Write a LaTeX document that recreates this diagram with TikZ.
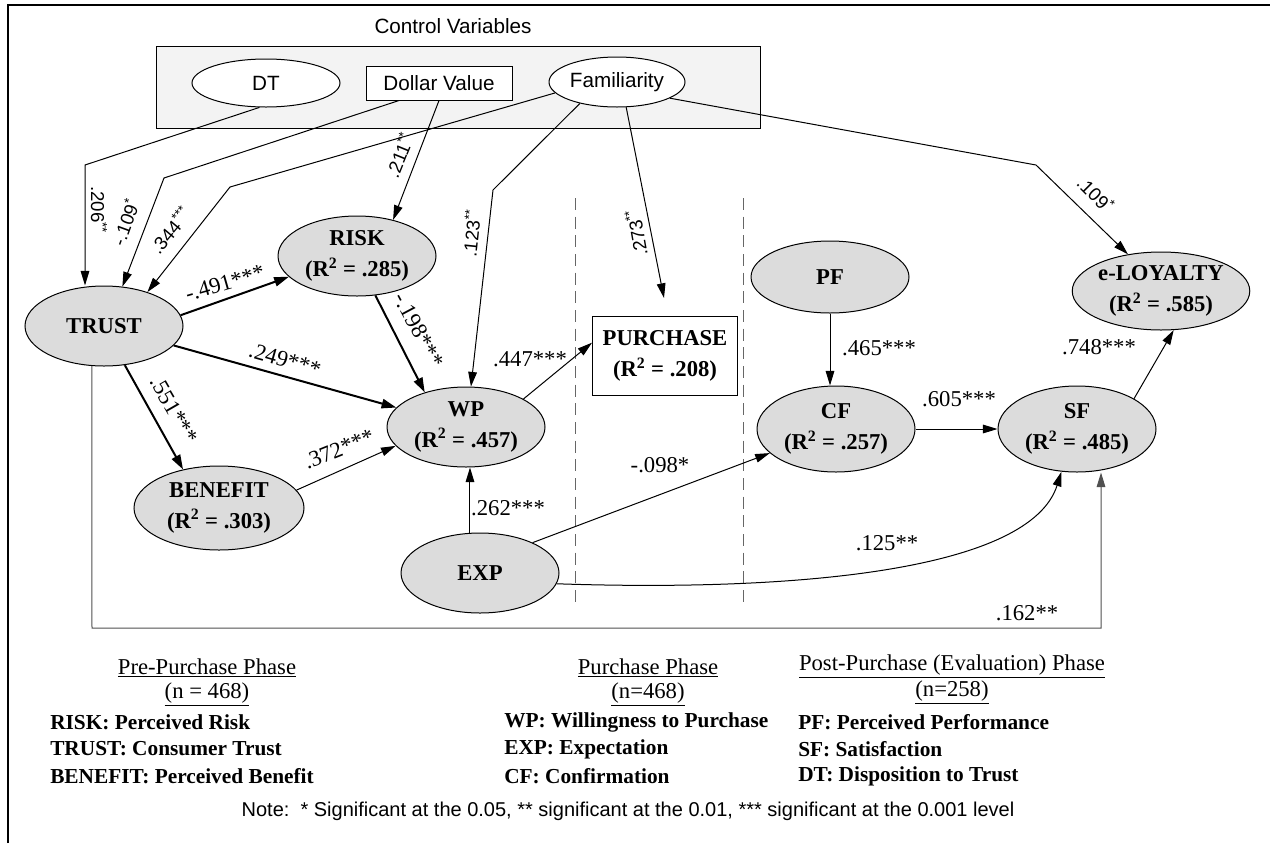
\documentclass[tikz,border=0pt]{standalone}
\usepackage{fontspec}
\setmainfont{Liberation Serif}
\newfontfamily\arialfont{Liberation Sans}
\usetikzlibrary{shapes.geometric,arrows.meta}
\definecolor{nodegray}{RGB}{220,220,220}
\definecolor{boxgray}{RGB}{243,243,243}
\definecolor{linegray}{RGB}{80,80,80}

\begin{document}
\begin{tikzpicture}[x=0.75pt,y=0.75pt,yscale=-1,xscale=1,
  latent/.style={draw,ellipse,fill=nodegray,line width=0.75pt,inner sep=0pt,minimum width=118.5pt,minimum height=60pt,align=center,font=\fontsize{17}{23}\selectfont\bfseries},
  ctrl/.style={draw,fill=white,line width=0.75pt,inner sep=0pt,font=\arialfont\fontsize{15.5}{18}\selectfont},
  coef/.style={inner sep=1pt,font=\fontsize{17}{20}\selectfont},
  scoef/.style={inner sep=1pt,font=\arialfont\fontsize{14}{16}\selectfont},
  arrthin/.style={line width=0.75pt,-{Triangle[length=11pt,width=6.5pt]}},
  arrthick/.style={line width=1.5pt,-{Triangle[length=11pt,width=7pt]}},
  legend/.style={anchor=west,inner sep=0pt,font=\fontsize{16}{20}\selectfont\bfseries},
  phase/.style={inner sep=0pt,font=\fontsize{17}{20}\selectfont}]
\useasboundingbox (0,0) rectangle (1270,843);
\draw [line width=1.5pt] (8,843) -- (8,5) -- (1270,5) ;
\draw [fill=boxgray,line width=0.75pt] (156,46) rectangle (760,128) ;
\node [font=\arialfont\fontsize{15.5}{18}\selectfont] (ctitle) at (453,26) {Control Variables};
\node [ctrl,ellipse,minimum width=111pt,minimum height=36pt] (DT) at (266,83) {DT};
\node [ctrl,minimum width=109.5pt,minimum height=25.5pt] (DV) at (439,83) {Dollar Value};
\node [ctrl,ellipse,minimum width=102pt,minimum height=37.5pt] (FAM) at (617,82) {Familiarity};
\draw [dash pattern=on 9pt off 5pt,line width=0.75pt,black!60] (575,198) -- (575,607) ;
\draw [dash pattern=on 9pt off 5pt,line width=0.75pt,black!60] (743,198) -- (743,607) ;
\node [latent] (TRUST) at (104,326) {TRUST};
\node [latent] (RISK) at (357,256) {RISK\\(R\textsuperscript{2} = .285)};
\node [latent] (WP) at (466,427) {WP\\(R\textsuperscript{2} = .457)};
\node [latent,minimum width=127.5pt,minimum height=63pt] (BEN) at (219,508) {BENEFIT\\(R\textsuperscript{2} = .303)};
\node [latent] (EXP) at (480,573) {EXP};
\node [draw,fill=white,line width=0.75pt,minimum width=108.75pt,minimum height=59.25pt,inner sep=0pt,align=center,font=\fontsize{17}{23}\selectfont\bfseries] (PUR) at (665,356) {PURCHASE\\(R\textsuperscript{2} = .208)};
\node [latent,minimum height=54pt] (PF) at (830,277) {PF};
\node [latent,minimum height=64.5pt] (CF) at (836,429) {CF\\(R\textsuperscript{2} = .257)};
\node [latent,minimum height=64.5pt] (SF) at (1077,429) {SF\\(R\textsuperscript{2} = .485)};
\node [latent,minimum width=111pt,minimum height=58.5pt] (LOY) at (1161,291) {e-LOYALTY\\(R\textsuperscript{2} = .585)};
\coordinate (dtbend) at (85,165);
\coordinate (dvbend) at (164,178);
\coordinate (fambend) at (230,187);
\coordinate (wpbend) at (493,190);
\coordinate (loybend) at (1036,165);
\coordinate (purtip) at (664,298);
\coordinate (botleft) at (92,628);
\coordinate (botright) at (1101,628);
\draw [arrthin] (DT.255) -- (dtbend) -- (dtbend |- TRUST.north) ;
\draw [arrthin] ([xshift=-30pt]DV.south) -- (dvbend) -- (TRUST.65) ;
\draw [arrthin] (FAM.190) -- (fambend) -- (TRUST.38) ;
\draw [arrthin] (DV.south) -- (RISK.45) ;
\draw [arrthin] (FAM.210) -- (wpbend) -- (WP.83) ;
\draw [arrthin] (FAM.290) -- (purtip) ;
\draw [arrthin] (FAM.343) -- (loybend) -- (LOY.132) ;
\draw [arrthick] (TRUST.8) -- (RISK.197) ;
\draw [arrthick] (TRUST) -- (WP) ;
\draw [arrthick] (TRUST.298) -- (BEN.133) ;
\draw [arrthick] (RISK.295) -- (WP.140) ;
\draw [arrthin] (BEN.13) -- (WP.195) ;
\draw [arrthin] (WP.26) -- ([yshift=-10pt]PUR.west) ;
\draw [arrthin] (PF.south) -- (PF.south |- CF.north) ;
\draw [arrthin] (CF) -- (SF) ;
\draw [arrthin] (SF.28) -- (LOY.288) ;
\draw [arrthin] (EXP.104) -- (EXP.104 |- WP.south) ;
\draw [arrthin] (EXP.30) -- (CF.200) ;
\draw [arrthin] (EXP.352) .. controls (800,592) and (1030,570) .. (SF.250) ;
\draw [arrthin,linegray] (TRUST.253) -- (botleft) -- (botright) -- (botright |- SF.south) ;
\node [scoef,rotate=-90] (c206) at (99,210) {.206\textsuperscript{**}};
\node [scoef,rotate=70] (c109a) at (125,222) {-.109\textsuperscript{*}};
\node [scoef,rotate=50] (c344) at (170,230) {.344\textsuperscript{***}};
\node [scoef,rotate=68] (c211) at (399,155) {.211\textsuperscript{**}};
\node [scoef,rotate=84] (c123) at (471,233) {.123\textsuperscript{**}};
\node [scoef,rotate=100] (c273) at (636,233) {.273\textsuperscript{**}};
\node [scoef,rotate=-45] (c109b) at (1096,194) {.109\textsuperscript{*}};
\node [coef,rotate=16] (c491) at (225,283) {-.491***};
\node [coef,rotate=-62] (c198) at (419,330) {-.198***};
\node [coef,rotate=-16] (c249) at (285,360) {.249***};
\node [coef,rotate=-60] (c551) at (174,410) {.551***};
\node [coef,rotate=22] (c372) at (339,449) {.372***};
\node [coef] (c447) at (530,359) {.447***};
\node [coef] (c465) at (879,348) {.465***};
\node [coef] (c605) at (959,399) {.605***};
\node [coef] (c748) at (1099,347) {.748***};
\node [coef] (c262) at (508,508) {.262***};
\node [coef] (c098) at (660,465) {-.098*};
\node [coef] (c125) at (887,543) {.125**};
\node [coef] (c162) at (1027,613) {.162**};
\node [phase] (h1) at (207,668) {\underline{Pre-Purchase Phase}};
\node [phase] (n1) at (207,694) {\underline{(n = 468)}};
\node [phase] (h2) at (648,668) {\underline{Purchase Phase}};
\node [phase] (n2) at (648,694) {\underline{(n=468)}};
\node [phase] (h3) at (952,666) {\underline{Post-Purchase (Evaluation) Phase}};
\node [phase] (n3) at (952,692) {\underline{(n=258)}};
\node [legend] (l11) at (50,722) {RISK: Perceived Risk};
\node [legend] (l12) at (50,749) {TRUST: Consumer Trust};
\node [legend] (l13) at (50,776) {BENEFIT: Perceived Benefit};
\node [legend] (l21) at (504,722) {WP: Willingness to Purchase};
\node [legend] (l22) at (504,749) {EXP: Expectation};
\node [legend] (l23) at (504,776) {CF: Confirmation};
\node [legend] (l31) at (798,722) {PF: Perceived Performance};
\node [legend] (l32) at (798,749) {SF: Satisfaction};
\node [legend] (l33) at (798,776) {DT: Disposition to Trust};
\node [font=\arialfont\fontsize{15}{18}\selectfont] (note) at (628,811) {Note:\ \ * Significant at the 0.05, ** significant at the 0.01, *** significant at the 0.001 level};
\end{tikzpicture}
\end{document}
